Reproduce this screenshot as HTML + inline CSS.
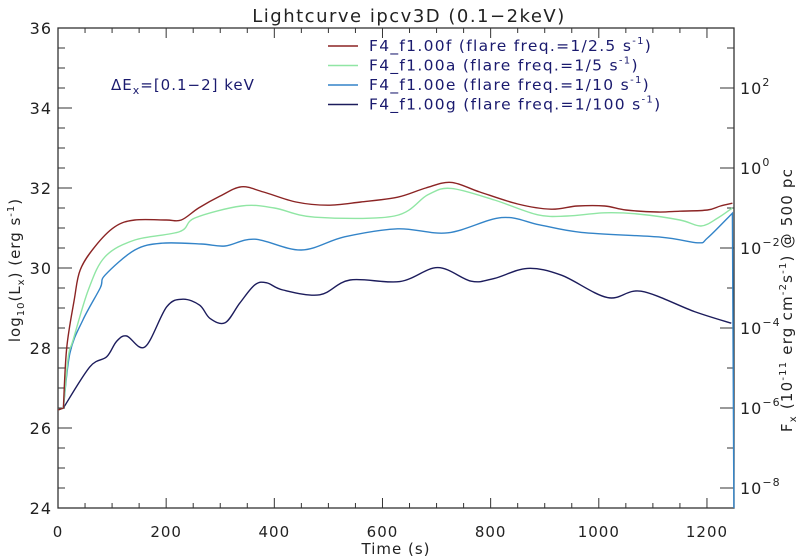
<!DOCTYPE html>
<html><head><meta charset="utf-8"><style>
body{margin:0;background:#fff;}
svg{display:block;font-family:"DejaVu Sans","Liberation Sans",sans-serif;}
</style></head><body>
<svg id="chart" width="800" height="560" viewBox="0 0 800 560">
<text x="409" y="22" font-size="18" letter-spacing="1.5" text-anchor="middle" fill="#222">Lightcurve ipcv3D (0.1−2keV)</text>
<g id="axes"></g>
<g id="series"></g>
<text x="111" y="90" font-size="15" letter-spacing="1" fill="#1a1a6e">ΔE<tspan font-size="11" dy="4">x</tspan><tspan dy="-4">=[0.1−2] keV</tspan></text>
<g id="legend"></g>
<text transform="translate(20,270) rotate(-90)" font-size="15" letter-spacing="1" text-anchor="middle" fill="#222">log<tspan font-size="10" dy="4">10</tspan><tspan dy="-4">(L</tspan><tspan font-size="10" dy="4">x</tspan><tspan dy="-4">) (erg s</tspan><tspan font-size="10" dy="-6">-1</tspan><tspan dy="6">)</tspan></text>
<text transform="translate(792,300) rotate(-90)" font-size="15" letter-spacing="1.2" text-anchor="middle" fill="#222">F<tspan font-size="10" dy="4">x</tspan><tspan dy="-4"> (10</tspan><tspan font-size="10" dy="-6">-11</tspan><tspan dy="6"> erg cm</tspan><tspan font-size="10" dy="-6">-2</tspan><tspan dy="6">s</tspan><tspan font-size="10" dy="-6">-1</tspan><tspan dy="6">) @ 500 pc</tspan></text>
<text x="396" y="554" font-size="15" letter-spacing="1" text-anchor="middle" fill="#222">Time (s)</text>
</svg>
<script>
const xTicks = [0,200,400,600,800,1000,1200];
const yTicks = [24,26,28,30,32,34,36];
const rightExps = [2,0,-2,-4,-6,-8];
const seriesNames = ["F4_f1.00f (flare freq.=1/2.5 s","F4_f1.00a (flare freq.=1/5 s","F4_f1.00e (flare freq.=1/10 s","F4_f1.00g (flare freq.=1/100 s"];
const seriesColors = ["#8b2424","#90e6a4","#3384c8","#1c1c5c"];
const tF = [0,10,16,30,41,68,105,142,200,228,260,300,339,380,440,499,560,628,680,727,780,850,912,960,1011,1050,1109,1150,1201,1225,1247];
const vF = [26.45,26.5,28.0,29.2,29.95,30.53,31.03,31.2,31.2,31.2,31.5,31.8,32.03,31.9,31.65,31.57,31.65,31.77,32.0,32.14,31.9,31.6,31.47,31.55,31.55,31.45,31.4,31.42,31.45,31.55,31.62];
const tA = [0,10,19,28,56,87,142,225,253,339,400,475,622,684,727,807,887,942,1011,1072,1150,1189,1220,1247];
const vA = [26.45,26.5,27.78,28.2,29.45,30.28,30.7,30.91,31.25,31.55,31.5,31.27,31.3,31.83,31.99,31.7,31.33,31.3,31.38,31.35,31.2,31.05,31.25,31.5];
const tE = [0,10,22,46,78,87,142,192,265,309,364,450,530,628,721,820,890,968,1115,1183,1201,1247,1250];
const vE = [26.45,26.5,27.87,28.7,29.5,29.82,30.45,30.62,30.6,30.55,30.72,30.45,30.78,30.98,30.88,31.26,31.08,30.89,30.77,30.63,30.75,31.37,23.5];
const tG = [0,10,59,90,108,127,161,201,231,262,281,309,336,364,386,416,484,540,632,702,764,807,868,931,1016,1078,1177,1245];
const vG = [26.45,26.5,27.53,27.78,28.16,28.3,28.03,29.03,29.22,29.07,28.74,28.63,29.12,29.58,29.63,29.45,29.33,29.7,29.66,30.01,29.67,29.74,29.99,29.82,29.26,29.42,28.91,28.62];
const seriesT = [tF,tA,tE,tG];
const seriesV = [vF,vA,vE,vG];

const X0=58, X1=734, Y0=508, Y1=28;
const xs = t => X0 + (t/1250)*(X1-X0);
const ys = v => Y0 - (v-24)/12*(Y0-Y1);
const NS="http://www.w3.org/2000/svg";
function mk(tag, attrs, parent){const e=document.createElementNS(NS,tag);for(const k in attrs)e.setAttribute(k,attrs[k]);parent.appendChild(e);return e;}
const axes=document.getElementById('axes');
const frame=mk('rect',{x:X0,y:Y1,width:X1-X0,height:Y0-Y1,fill:'none',stroke:'#333','stroke-width':1.3},axes);


for(let t=0;t<=1250;t+=50){
  const big=t%200===0, L=big?10:5;
  const a=mk('line',{x1:xs(t),x2:xs(t),y1:Y0,y2:Y0-L,stroke:'#333'},axes);
  
  
  const b=mk('line',{x1:xs(t),x2:xs(t),y1:Y1,y2:Y1+L,stroke:'#333'},axes);
  
  
}
xTicks.forEach(t=>{const e=mk('text',{x:xs(t),y:537,'font-size':15,'letter-spacing':1,'text-anchor':'middle',fill:'#222'},axes);e.textContent=t;
  
  });
for(let v=24;v<=36;v+=0.5){
  const L=(v%2===0)?14:7;
  const a=mk('line',{x1:X0,x2:X0+L,y1:ys(v),y2:ys(v),stroke:'#333'},axes);
  
  
}
yTicks.forEach(v=>{const e=mk('text',{x:52,y:ys(v)+6,'font-size':16,'letter-spacing':1,'text-anchor':'end',fill:'#222'},axes);e.textContent=v;
  
  });
for(let ex=-9;ex<=3;ex++){
  const v=ex+32.5; if(v<24||v>36) continue;
  const L=(ex%2===0)?14:7;
  const a=mk('line',{x1:X1,x2:X1-L,y1:ys(v),y2:ys(v),stroke:'#333'},axes);
  
  
}
rightExps.forEach(ex=>{const e=mk('text',{x:740,y:ys(ex+32.5)+6,'font-size':16,'letter-spacing':1,fill:'#222'},axes);
  
  
  e.innerHTML='10<tspan font-size="11" dy="-8">'+(ex<0?'−'+(-ex):ex)+'</tspan>';});
const sg=document.getElementById('series');
mk('clipPath',{id:'clip'},sg).appendChild((()=>{const r=document.createElementNS(NS,'rect');r.setAttribute('x',X0);r.setAttribute('y',Y1);r.setAttribute('width',X1-X0+1);r.setAttribute('height',Y0-Y1);return r;})());
function smooth(pts){
  let d='M'+pts[0][0].toFixed(1)+','+pts[0][1].toFixed(1);
  for(let i=0;i<pts.length-1;i++){
    const p0=pts[Math.max(0,i-1)],p1=pts[i],p2=pts[i+1],p3=pts[Math.min(pts.length-1,i+2)];
    const c1=[p1[0]+(p2[0]-p0[0])/6,p1[1]+(p2[1]-p0[1])/6];
    const c2=[p2[0]-(p3[0]-p1[0])/6,p2[1]-(p3[1]-p1[1])/6];
    d+='C'+c1.map(v=>v.toFixed(1)).join(',')+' '+c2.map(v=>v.toFixed(1)).join(',')+' '+p2.map(v=>v.toFixed(1)).join(',');
  }
  return d;
}
function pathFor(pts){
  // keep the start flat segment and any final sharp drop as straight lines
  let start=[pts[0]], body=pts.slice(1), tail=null;
  const n=body.length;
  if(n>2 && Math.abs(body[n-1][1]-body[n-2][1])>80){tail=body[n-1];body=body.slice(0,n-1);}
  let d='M'+pts[0][0].toFixed(1)+','+pts[0][1].toFixed(1)+smooth(body).replace(/^M/,'L');
  if(tail) d+='L'+tail[0].toFixed(1)+','+tail[1].toFixed(1);
  return d;
}
const ids=['f','a','e','g'];
for(let i=3;i>=0;i--){
  const pts=seriesT[i].map((t,j)=>[xs(t),ys(seriesV[i][j])]);
  const p=mk('path',{d:pathFor(pts),fill:'none',stroke:seriesColors[i],'stroke-width':1.4,'clip-path':'url(#clip)'},sg);
  
  
}
const lg=document.getElementById('legend');
seriesNames.forEach((n,i)=>{
  const y=46+i*19.5;
  const l=mk('line',{x1:328,x2:358,y1:y,y2:y,stroke:seriesColors[i],'stroke-width':1.4},lg);
  
  
  const t=mk('text',{x:369,y:y+5,'font-size':15.5,'letter-spacing':1.3,fill:'#1a1a6e'},lg);
  
  
  t.innerHTML=n+'<tspan font-size="10" dy="-7">-1</tspan><tspan dy="7">)</tspan>';
});
</script>
</body></html>
